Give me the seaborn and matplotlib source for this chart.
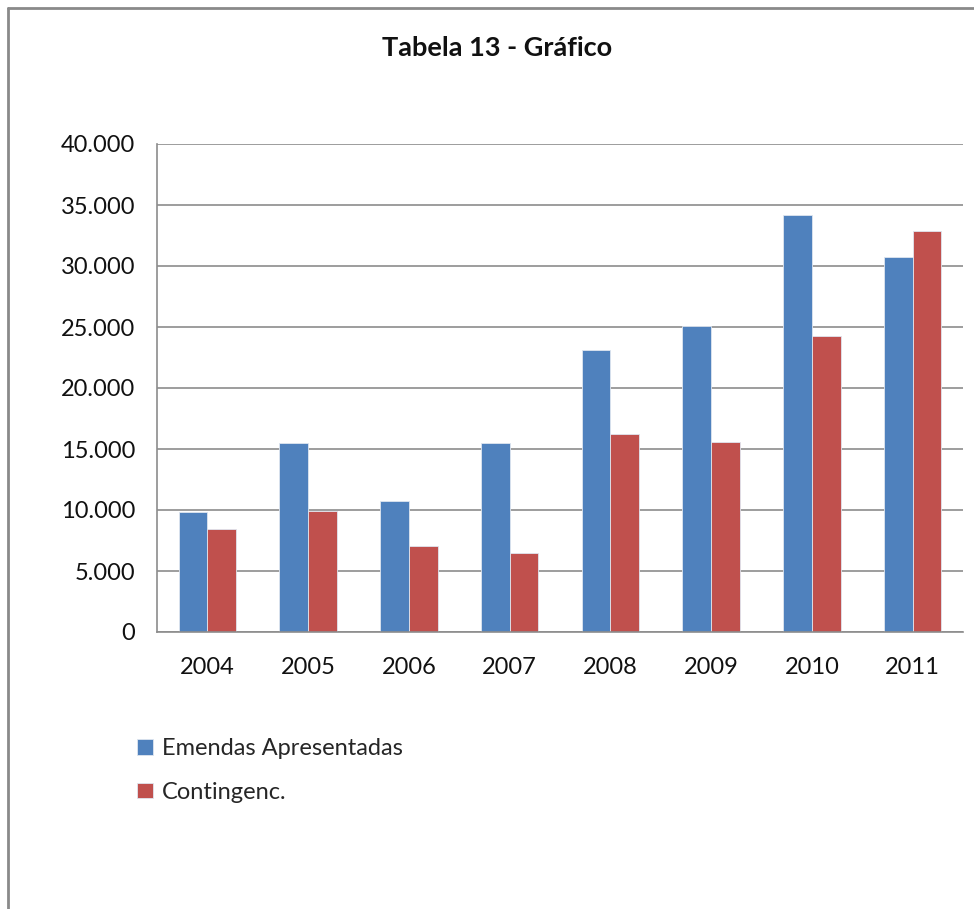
import matplotlib
matplotlib.use("Agg")
import matplotlib.pyplot as plt
import matplotlib.ticker as mticker
from matplotlib.lines import Line2D
import seaborn as sns
import pandas as pd

# Data
years = ["2004", "2005", "2006", "2007", "2008", "2009", "2010", "2011"]
emendas = [9800, 15500, 10750, 15500, 23100, 25050, 34150, 30750]
contingenc = [8450, 9950, 7050, 6500, 16200, 15600, 24250, 32850]
series_names = ["Emendas Apresentadas", "Contingenc."]
y_ticks = [0, 5000, 10000, 15000, 20000, 25000, 30000, 35000, 40000]

df = pd.DataFrame({
    "Ano": years * 2,
    "Valor": emendas + contingenc,
    "Série": [series_names[0]] * len(years) + [series_names[1]] * len(years),
})

sns.set_theme(style="white")
plt.rcParams["font.family"] = ["Lato", "DejaVu Sans"]

W, H = 974, 909
fig = plt.figure(figsize=(W / 100, H / 100), dpi=100)
ax = fig.add_axes([157 / W, 1 - 632 / H, (963 - 157) / W, (632 - 144) / H])

palette = {series_names[0]: "#4F81BD", series_names[1]: "#C0504D"}
sns.barplot(data=df, x="Ano", y="Valor", hue="Série", order=years,
            hue_order=series_names, palette=palette, width=0.57,
            saturation=1, ax=ax, edgecolor="#dfe6f0", linewidth=0.6)

grid_color = "#8c8c8c"
text_color = "#111111"
ax.set_ylim(0, 40000)
ax.set_xlim(-0.5, len(years) - 0.5)
ax.set_yticks(y_ticks)
ax.yaxis.set_major_formatter(mticker.FuncFormatter(
    lambda v, p: f"{int(v):,}".replace(",", ".")))
ax.yaxis.grid(True, color=grid_color, linewidth=1.2)
ax.xaxis.grid(False)
ax.set_axisbelow(True)

for side in ("top", "right"):
    ax.spines[side].set_visible(False)
for side in ("left", "bottom"):
    ax.spines[side].set_color(grid_color)
    ax.spines[side].set_linewidth(1.2)

# category boundary ticks on x, labels centred between them
ax.set_xticks([i - 0.5 for i in range(len(years) + 1)], minor=True)
ax.tick_params(axis="x", which="minor", direction="out", length=6.5,
               width=1.2, color=grid_color)
ax.tick_params(axis="x", which="major", length=0, pad=18,
               labelsize=17, labelcolor=text_color)
ax.tick_params(axis="y", direction="out", length=6.5, width=1.2,
               color=grid_color, pad=9, labelsize=17, labelcolor=text_color)
ax.set_xlabel("")
ax.set_ylabel("")

fig.text(497 / W, 1 - 48 / H, "Tabela 13 - Gráfico", ha="center",
         va="center", fontsize=19.5, fontweight="bold", color=text_color)

handles, labels = ax.get_legend_handles_labels()
ax.legend_.remove()
fig.legend(handles, labels, loc="upper left",
           bbox_to_anchor=(128 / W, 1 - 729 / H), frameon=False,
           fontsize=17, handlelength=0.65, handleheight=0.65,
           handletextpad=0.4, labelspacing=0.95, borderaxespad=0)

# outer chart frame (left and top edges)
frame_kw = dict(color="#8a8a8a", linewidth=2, transform=fig.transFigure)
fig.add_artist(Line2D([7.5 / W, 7.5 / W], [0, 1 - 8 / H], **frame_kw))
fig.add_artist(Line2D([7.5 / W, 1], [1 - 8 / H, 1 - 8 / H], **frame_kw))

fig.savefig("out.png", dpi=100, facecolor="white")
